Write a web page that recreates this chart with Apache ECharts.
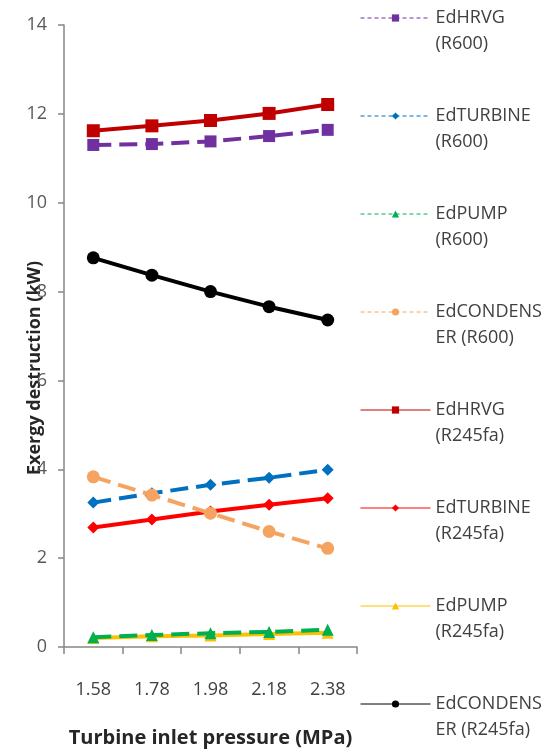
<!DOCTYPE html>
<html><head><meta charset="utf-8">
<script src="https://cdn.jsdelivr.net/npm/echarts@6/dist/echarts.min.js"></script>
<style>html,body{margin:0;padding:0;background:#fff}#c{width:550px;height:751px}</style>
</head><body><div id="c"></div>
<script>
const categories = ['1.58', '1.78', '1.98', '2.18', '2.38'];
const yTicks = [0, 2, 4, 6, 8, 10, 12, 14];
const seriesNames = ['EdHRVG\n(R600)', 'EdTURBINE\n(R600)', 'EdPUMP\n(R600)', 'EdCONDENS\nER (R600)',
  'EdHRVG\n(R245fa)', 'EdTURBINE\n(R245fa)', 'EdPUMP\n(R245fa)', 'EdCONDENS\nER (R245fa)'];
const hrvgR600 = [11.30, 11.32, 11.38, 11.50, 11.64];
const turbineR600 = [3.25, 3.46, 3.65, 3.81, 3.99];
const pumpR600 = [0.22, 0.27, 0.31, 0.34, 0.39];
const condR600 = [3.83, 3.42, 3.01, 2.60, 2.22];
const hrvgR245 = [11.62, 11.73, 11.85, 12.01, 12.21];
const turbineR245 = [2.69, 2.87, 3.05, 3.20, 3.35];
const pumpR245 = [0.20, 0.24, 0.26, 0.29, 0.32];
const condR245 = [8.76, 8.37, 8.00, 7.66, 7.36];

const dataSets = [hrvgR600, turbineR600, pumpR600, condR600, hrvgR245, turbineR245, pumpR245, condR245];
const colors = ['#7030A0', '#0070C0', '#00B050', '#F4A460', '#C00000', '#FF0000', '#FFC000', '#000000'];
const symbols = ['rect', 'diamond', 'triangle', 'circle', 'rect', 'diamond', 'triangle', 'circle'];
const symbolSizes = [12, 12, 12, 13, 13, 12, 12, 13];
const dashed = [true, true, true, true, false, false, false, false];

const chart = echarts.init(document.getElementById('c'));
const series = dataSets.map((d, i) => ({
  name: seriesNames[i],
  type: 'line',
  data: d,
  symbol: symbols[i],
  symbolSize: symbolSizes[i],
  itemStyle: { color: colors[i] },
  lineStyle: { color: colors[i], width: 4, type: dashed[i] ? [18, 8] : 'solid' },
  z: i < 4 ? 3 : 2
}));
chart.setOption({
  animation: false,
  backgroundColor: '#fff',
  textStyle: { fontFamily: 'Open Sans' },
  grid: { left: 64, right: 193, top: 25, bottom: 104, containLabel: false, outerBoundsMode: 'none' },
  legend: {
    orient: 'vertical',
    left: 360,
    top: -21,
    itemWidth: 70,
    itemHeight: 9,
    itemGap: 20,
    padding: 0,
    lineStyle: { width: 1 },
    formatter: n => ' \n' + n,
    textStyle: { fontSize: 18, color: '#404040', lineHeight: 26, fontFamily: 'Open Sans' },
    data: seriesNames.map((n, i) => ({
      name: n,
      lineStyle: { width: 1, type: dashed[i] ? [4, 3] : 'solid' }
    }))
  },
  xAxis: {
    type: 'category',
    data: categories,
    boundaryGap: true,
    name: 'Turbine inlet pressure (MPa)',
    nameLocation: 'middle',
    nameGap: 81,
    nameMoveOverlap: false,
    nameTextStyle: { fontSize: 20, fontWeight: 'bold', color: '#262626' },
    axisLine: { lineStyle: { color: '#868686', width: 1.5 } },
    axisTick: { show: true, length: 7, lineStyle: { color: '#868686', width: 1.5 } },
    axisLabel: { fontSize: 18, color: '#404040', margin: 34 }
  },
  yAxis: {
    type: 'value',
    min: 0, max: 14, interval: 2,
    name: 'Exergy destruction (kW)',
    nameLocation: 'middle',
    nameGap: 20,
    nameMoveOverlap: false,
    nameTextStyle: { fontSize: 18, fontWeight: 'bold', color: '#262626', padding: [0, 64, 0, 0] },
    splitLine: { show: false },
    axisLine: { show: true, lineStyle: { color: '#868686', width: 1.5 } },
    axisTick: { show: true, length: 6, lineStyle: { color: '#868686', width: 1.5 } },
    axisLabel: { fontSize: 18, color: '#595959', margin: 17,
      formatter: v => yTicks.includes(v) ? String(v) : '' }
  },
  series: series
});
</script></body></html>
